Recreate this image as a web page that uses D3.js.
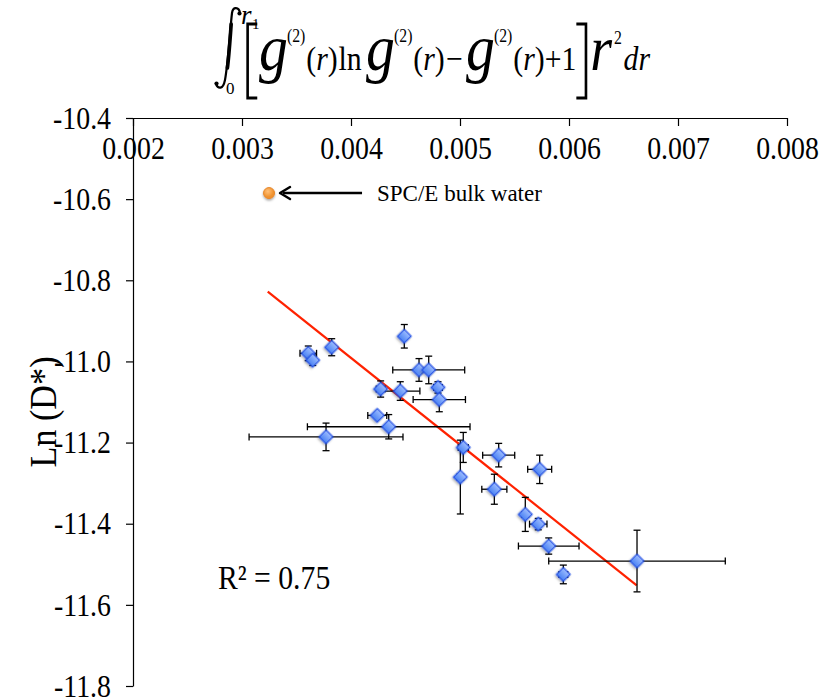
<!DOCTYPE html>
<html>
<head>
<meta charset="utf-8">
<script src="https://cdn.jsdelivr.net/npm/d3@7"></script>
<style>
  body { margin: 0; background: #fff; }
  svg { display: block; }
  text { font-family: "Liberation Serif", "Times New Roman", serif; fill: #000; }
</style>
</head>
<body>
<svg id="chart" width="823" height="700"></svg>
<script>
// Two-body excess entropy integral (x) against log diffusivity (y)
const entropyX = [0.003608, 0.003649, 0.003823, 0.004489, 0.004624, 0.004713, 0.004272, 0.004452,
                  0.004798, 0.004810, 0.004241, 0.004346, 0.003771, 0.005030, 0.005355, 0.005731,
                  0.005003, 0.005315, 0.005599, 0.005718, 0.005814, 0.006624, 0.005948];
const lnD      = [-10.980, -10.997, -10.965, -10.938, -11.021, -11.021, -11.068, -11.073,
                  -11.064, -11.094, -11.133, -11.161, -11.186, -11.212, -11.231, -11.266,
                  -11.285, -11.315, -11.377, -11.401, -11.455, -11.492, -11.525];
const xErr     = [0.000076, 0.000020, 0.000010, 0.000010, 0.000010, 0.000330, 0.000040, 0.000180,
                  0.000040, 0.000240, 0.000087, 0.000746, 0.000706, 0.000046, 0.000147, 0.000110,
                  0.000030, 0.000115, 0.000030, 0.000080, 0.000278, 0.000810, 0.000040];
const yErr     = [0.018, 0.013, 0.021, 0.029, 0.028, 0.034, 0.020, 0.023,
                  0.014, 0.030, 0.005, 0.030, 0.034, 0.037, 0.029, 0.035,
                  0.091, 0.037, 0.042, 0.014, 0.020, 0.076, 0.023];

// Reference point for bulk water
const bulkX = 0.003248, bulkY = -10.585;
const bulkLabel = "SPC/E bulk water";

// Linear trend line end points
const fitX = [0.003236, 0.006621];
const fitY = [-10.828, -11.552];
const r2Text = "R² = 0.75";

const xTicks = [0.002, 0.003, 0.004, 0.005, 0.006, 0.007, 0.008];
const yTicks = [-10.4, -10.6, -10.8, -11.0, -11.2, -11.4, -11.6, -11.8];
const yTitle = "Ln (D*)";

const SERIF = "'Liberation Serif', 'Times New Roman', serif";
const NARROW = 0.87;   // horizontal squeeze applied to label glyphs

const svg = d3.select("#chart");

const x = d3.scaleLinear().domain([0.002, 0.008]).range([133, 787]);
const y = d3.scaleLinear().domain([-10.4, -11.8]).range([118, 686]);

const defs = svg.append("defs");
const grad = defs.append("linearGradient").attr("id", "diamondFill")
  .attr("x1", "0").attr("y1", "0").attr("x2", "0").attr("y2", "1");
grad.append("stop").attr("offset", "0%").attr("stop-color", "#9cbcff");
grad.append("stop").attr("offset", "100%").attr("stop-color", "#4a82f3");
const og = defs.append("radialGradient").attr("id", "orangeFill").attr("cx", "40%").attr("cy", "35%");
og.append("stop").attr("offset", "0%").attr("stop-color", "#ffc07a");
og.append("stop").attr("offset", "100%").attr("stop-color", "#f0922e");
const sh = defs.append("filter").attr("id", "shadow").attr("x", "-50%").attr("y", "-50%").attr("width", "200%").attr("height", "200%");
sh.append("feDropShadow").attr("dx", 0).attr("dy", 1.5).attr("stdDeviation", 1.2).attr("flood-color", "#000").attr("flood-opacity", 0.35);

// Axes (x axis runs along the top edge, at y = -10.4)
const xAxis = d3.axisBottom(x).tickValues(xTicks).tickFormat(d3.format(".3f"))
  .tickSize(8).tickSizeOuter(0).tickPadding(10);
const gx = svg.append("g").attr("transform", "translate(0,118)").call(xAxis)
  .attr("font-family", SERIF);
gx.selectAll("text").style("font-size", "32px").attr("transform", `scale(${NARROW},1)`);

const yAxis = d3.axisLeft(y).tickValues(yTicks)
  .tickFormat(d => d3.format(".1f")(d).replace("−", "-"))
  .tickSize(7).tickSizeOuter(0).tickPadding(15);
const gy = svg.append("g").attr("transform", "translate(133,0)").call(yAxis)
  .attr("font-family", SERIF);
gy.selectAll("text").style("font-size", "32px")
  .attr("x", -22 / NARROW).attr("transform", `scale(${NARROW},1)`);

[gx, gy].forEach(g => {
  g.selectAll("path, line").attr("stroke", "#000").attr("stroke-width", 1.2);
});

// Axis title
svg.append("text")
  .attr("transform", "translate(56,412) rotate(-90) scale(0.9,1)")
  .attr("text-anchor", "middle")
  .style("font-size", "38px")
  .text(yTitle);

// Trend line
svg.append("line")
  .attr("x1", x(fitX[0])).attr("y1", y(fitY[0]))
  .attr("x2", x(fitX[1])).attr("y2", y(fitY[1]))
  .attr("stroke", "#ff2200").attr("stroke-width", 2.2);

// Error bars
const cap = 3.5;
const pts = entropyX.map((v, i) => ({ x: v, y: lnD[i], ex: xErr[i], ey: yErr[i] }));
const eb = svg.append("g").attr("stroke", "#000").attr("stroke-width", 1.3);
pts.forEach(p => {
  const cx = x(p.x), cy = y(p.y);
  const x0 = x(p.x - p.ex), x1 = x(p.x + p.ex);
  const y0 = y(p.y + p.ey), y1 = y(p.y - p.ey);
  eb.append("line").attr("x1", x0).attr("x2", x1).attr("y1", cy).attr("y2", cy);
  eb.append("line").attr("x1", x0).attr("x2", x0).attr("y1", cy - cap).attr("y2", cy + cap);
  eb.append("line").attr("x1", x1).attr("x2", x1).attr("y1", cy - cap).attr("y2", cy + cap);
  eb.append("line").attr("x1", cx).attr("x2", cx).attr("y1", y0).attr("y2", y1);
  eb.append("line").attr("x1", cx - cap).attr("x2", cx + cap).attr("y1", y0).attr("y2", y0);
  eb.append("line").attr("x1", cx - cap).attr("x2", cx + cap).attr("y1", y1).attr("y2", y1);
});

// Diamond markers
const diamond = d3.symbol().type(d3.symbolSquare).size(92);
svg.append("g").selectAll("path").data(pts).join("path")
  .attr("d", diamond)
  .attr("transform", d => `translate(${x(d.x)},${y(d.y)}) rotate(45)`)
  .attr("fill", "url(#diamondFill)")
  .attr("stroke", "#1f4fe6").attr("stroke-width", 1.2)
  .attr("filter", "url(#shadow)");

// Bulk water point with arrow
svg.append("circle")
  .attr("cx", x(bulkX)).attr("cy", y(bulkY)).attr("r", 5.5)
  .attr("fill", "url(#orangeFill)").attr("stroke", "#e8872a").attr("stroke-width", 1)
  .attr("filter", "url(#shadow)");
const ay = y(bulkY);
svg.append("line").attr("x1", x(bulkX) + 14).attr("x2", x(bulkX) + 93)
  .attr("y1", ay).attr("y2", ay).attr("stroke", "#000").attr("stroke-width", 2.4);
svg.append("path")
  .attr("d", `M${x(bulkX) + 11},${ay} l10,-6 M${x(bulkX) + 11},${ay} l10,6`)
  .attr("stroke", "#000").attr("stroke-width", 2.4).attr("fill", "none").attr("stroke-linecap", "round");
svg.append("text").attr("x", x(bulkX) + 108).attr("y", ay + 8)
  .style("font-size", "23px").text(bulkLabel);

// R squared
svg.append("text").attr("transform", `translate(218,589) scale(0.9,1)`)
  .style("font-size", "33px").text(r2Text);

// Formula heading: integral sign drawn as a path, limits as text
const integ = svg.append("g").attr("fill", "none").attr("stroke", "#000").attr("stroke-linecap", "round");
integ.append("path")
  .attr("d", "M240,13 C239,7 233,6 232,13 C230,30 228,64 225,80 C223,90 218,89 216,84")
  .attr("stroke-width", 2.2);
integ.append("path")
  .attr("d", "M231.2,24 C230,40 229,56 227.4,68")
  .attr("stroke-width", 3.6);
integ.append("circle").attr("cx", 239.5).attr("cy", 13.5).attr("r", 2.1).attr("fill", "#000").attr("stroke", "none");
integ.append("circle").attr("cx", 216.5).attr("cy", 83.5).attr("r", 2.1).attr("fill", "#000").attr("stroke", "none");
svg.append("text").attr("x", 241).attr("y", 24).style("font-size", "27px").style("font-style", "italic").text("r");
svg.append("text").attr("x", 252).attr("y", 29).style("font-size", "15px").text("1");
svg.append("text").attr("x", 226).attr("y", 94).style("font-size", "17px").text("0");

const f = svg.append("g");
let pos = 0;
function piece(txt, size, baseY, italic, gap) {
  pos += gap || 0;
  const t = f.append("text").attr("x", pos).attr("y", baseY)
    .style("font-size", size + "px").style("font-style", italic ? "italic" : "normal").text(txt);
  const w = t.node().getComputedTextLength();
  pos += w;
  return pos - w;
}
function bracket(open) {
  const top = 24, bot = 98, arm = 11;
  const x0 = open ? pos + 3 : pos + arm;
  const d = open
    ? `M${x0 + arm},${top} H${x0} V${bot} H${x0 + arm}`
    : `M${x0 - arm},${top} H${x0} V${bot} H${x0 - arm}`;
  f.append("path").attr("d", d).attr("fill", "none").attr("stroke", "#000").attr("stroke-width", 3);
  pos += arm + 5;
}
pos = 0;
bracket(true);
const term = (lead) => {
  piece("g", 66, 70, true, lead);
  piece("(2)", 18, 42, false, -1);
  piece("(", 34, 70, false, 1);
  piece("r", 34, 70, true, 0);
  piece(")", 34, 70, false, 0);
};
term(0);
piece("ln", 34, 70, false, 1);
term(5);
piece("−", 34, 70, false, 1);
term(4);
piece("+1", 34, 70, false, 0);
bracket(false);
piece("r", 64, 70, true, 0);
piece("2", 18, 44, false, 2);
piece("dr", 34, 70, true, 2);
const sx = (650 - 245) / pos;
f.attr("transform", `translate(245,0) scale(${sx},1)`);
</script>
</body>
</html>
